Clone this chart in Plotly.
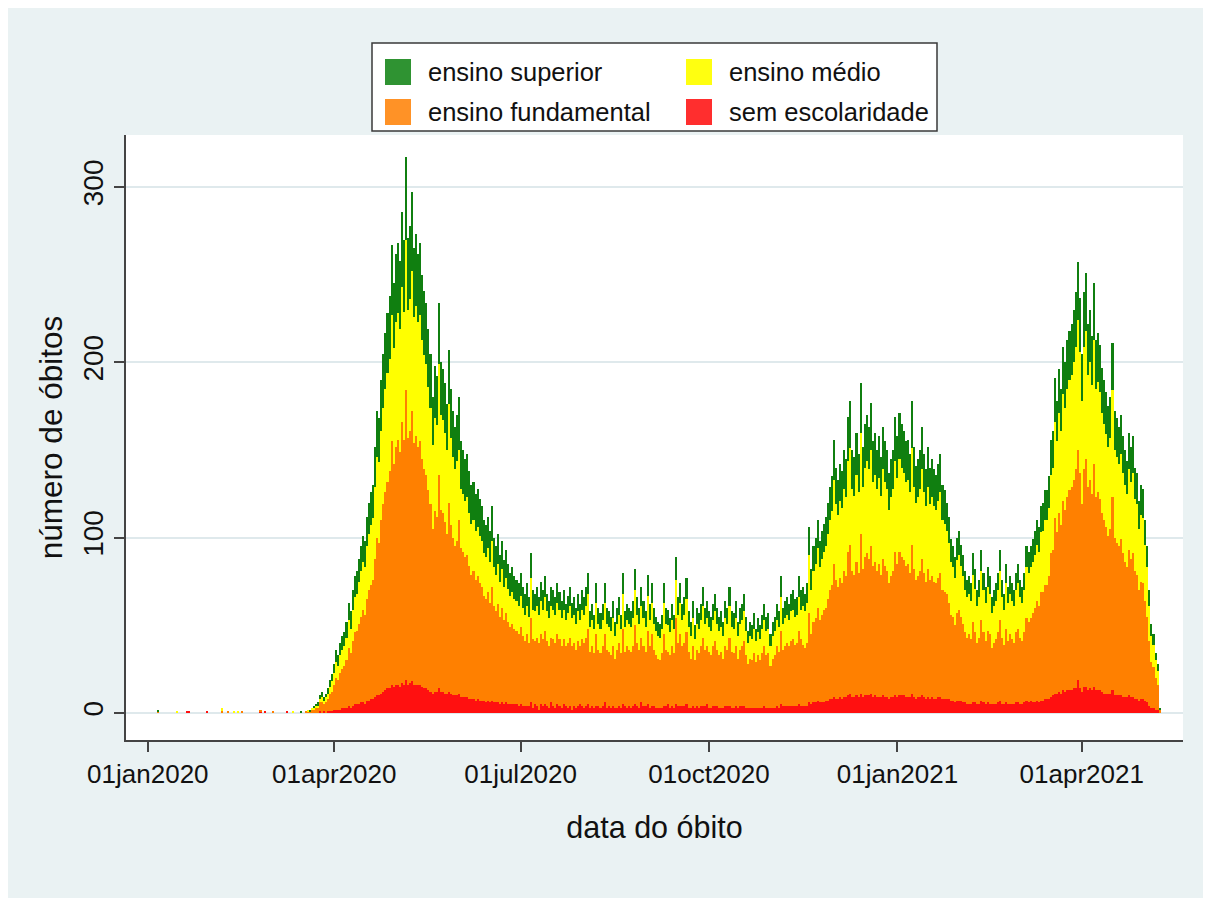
import pandas as pd
import plotly.graph_objects as go

# ---------------- data ----------------
# sparse early deaths (Jan-Mar 2020)
early_dates = ["2020-01-06", "2020-01-15", "2020-01-20", "2020-01-21", "2020-01-30",
               "2020-02-06", "2020-02-09", "2020-02-12", "2020-02-14", "2020-02-16",
               "2020-02-25", "2020-02-27", "2020-03-02", "2020-03-09", "2020-03-12"]
early_sem = [0, 0, 1, 1, 1, 0, 0, 0, 0, 0, 1, 1, 0, 1, 0]
early_fund = [1, 0, 0, 0, 0, 1, 1, 0, 0, 1, 1, 0, 1, 0, 0]
early_med = [0, 1, 0, 0, 0, 2, 0, 1, 1, 0, 0, 0, 0, 0, 1]
early_sup = [1, 0, 0, 0, 0, 0, 0, 0, 0, 0, 0, 0, 0, 0, 0]

# daily series from 16 Mar 2020, one week per line
main_start = "2020-03-16"

sem_escolaridade = [
    0, 0, 0, 0, 0, 0, 0,
    0, 0, 1, 0, 1, 0, 1,
    1, 1, 2, 2, 2, 2, 3,
    3, 3, 4, 3, 4, 5, 5,
    5, 6, 6, 5, 7, 7, 8,
    8, 9, 10, 10, 11, 12, 13,
    14, 14, 16, 15, 16, 16, 15,
    17, 16, 19, 16, 17, 18, 16,
    16, 16, 16, 15, 14, 14, 13,
    12, 11, 12, 12, 14, 12, 12,
    11, 11, 12, 11, 10, 10, 10,
    11, 9, 9, 9, 9, 8, 8,
    8, 7, 8, 7, 7, 7, 6,
    7, 6, 7, 6, 6, 6, 5,
    6, 5, 6, 5, 5, 5, 5,
    5, 4, 5, 4, 4, 4, 4,
    6, 3, 5, 4, 2, 5, 4,
    5, 4, 3, 6, 4, 3, 5,
    4, 3, 5, 4, 3, 4, 2,
    4, 3, 4, 5, 4, 3, 4,
    5, 3, 4, 3, 4, 4, 3,
    4, 6, 3, 4, 3, 4, 3,
    3, 4, 3, 5, 4, 3, 4,
    3, 4, 5, 4, 3, 6, 4,
    4, 5, 3, 4, 4, 3, 3,
    3, 3, 4, 4, 5, 3, 4,
    3, 5, 4, 4, 4, 4, 5,
    3, 3, 4, 3, 4, 3, 4,
    4, 4, 5, 3, 3, 4, 4,
    4, 3, 3, 3, 4, 4, 4,
    3, 3, 4, 3, 4, 4, 4,
    3, 3, 3, 3, 3, 3, 3,
    3, 3, 4, 3, 3, 3, 3,
    3, 4, 3, 5, 4, 4, 4,
    4, 4, 4, 4, 4, 5, 4,
    4, 4, 4, 6, 5, 6, 6,
    7, 6, 6, 6, 7, 7, 8,
    8, 9, 8, 8, 9, 8, 9,
    9, 10, 11, 9, 9, 10, 9,
    11, 9, 10, 10, 10, 11, 9,
    10, 9, 9, 9, 10, 9, 9,
    8, 9, 9, 10, 9, 10, 10,
    10, 9, 9, 9, 11, 9, 8,
    9, 9, 10, 9, 8, 9, 8,
    9, 8, 8, 9, 9, 8, 8,
    8, 8, 7, 7, 6, 7, 7,
    7, 6, 6, 5, 5, 5, 6,
    6, 5, 5, 7, 6, 5, 6,
    5, 5, 5, 5, 6, 7, 5,
    5, 6, 5, 5, 5, 5, 6,
    6, 5, 5, 6, 7, 6, 7,
    6, 6, 7, 6, 7, 7, 8,
    8, 8, 9, 10, 11, 11, 12,
    11, 13, 12, 13, 13, 13, 14,
    14, 19, 14, 12, 15, 15, 13,
    14, 13, 15, 13, 13, 13, 12,
    11, 11, 11, 11, 13, 10, 10,
    10, 10, 9, 9, 9, 10, 9,
    9, 8, 8, 7, 8, 8, 7,
    6, 4, 3, 3, 2, 2, 0,
]

ensino_fundamental = [
    0, 0, 1, 1, 1, 2, 2,
    3, 3, 5, 6, 4, 6, 7,
    10, 11, 14, 18, 17, 21, 22,
    24, 27, 33, 31, 37, 41, 42,
    46, 49, 53, 51, 58, 63, 65,
    68, 79, 90, 87, 99, 107, 113,
    118, 124, 139, 127, 136, 140, 134,
    149, 140, 165, 141, 144, 154, 138,
    142, 136, 139, 130, 125, 122, 114,
    107, 94, 103, 100, 122, 104, 102,
    98, 91, 108, 96, 90, 85, 88,
    99, 85, 83, 80, 81, 76, 71,
    73, 69, 70, 67, 65, 60, 59,
    62, 57, 65, 55, 52, 56, 50,
    54, 48, 51, 47, 44, 46, 43,
    42, 41, 44, 40, 37, 41, 36,
    48, 39, 36, 39, 38, 40, 38,
    42, 37, 35, 37, 38, 37, 40,
    38, 35, 37, 34, 37, 39, 36,
    36, 33, 37, 33, 38, 37, 39,
    43, 32, 34, 31, 41, 32, 31,
    34, 39, 33, 31, 30, 34, 28,
    33, 36, 31, 43, 31, 35, 32,
    32, 34, 45, 36, 33, 37, 34,
    31, 42, 35, 41, 32, 30, 28,
    27, 31, 41, 32, 30, 30, 34,
    31, 49, 36, 41, 34, 36, 41,
    32, 28, 34, 27, 32, 31, 34,
    39, 32, 33, 32, 30, 34, 37,
    32, 30, 32, 28, 34, 32, 39,
    32, 31, 34, 28, 32, 34, 37,
    30, 25, 28, 27, 31, 26, 30,
    27, 31, 34, 30, 31, 24, 28,
    30, 34, 32, 42, 32, 34, 36,
    34, 37, 38, 35, 36, 42, 38,
    35, 33, 36, 51, 40, 46, 48,
    53, 47, 50, 53, 53, 58, 62,
    65, 76, 68, 64, 68, 66, 72,
    69, 82, 85, 72, 70, 76, 71,
    91, 73, 79, 81, 78, 84, 75,
    76, 72, 76, 70, 78, 75, 72,
    66, 69, 72, 82, 76, 82, 79,
    77, 75, 76, 71, 85, 73, 68,
    69, 72, 78, 71, 67, 73, 68,
    69, 67, 66, 68, 71, 62, 61,
    60, 55, 49, 48, 44, 50, 52,
    48, 45, 40, 38, 40, 37, 46,
    40, 35, 38, 46, 40, 36, 41,
    40, 32, 35, 37, 40, 46, 38,
    34, 42, 36, 40, 37, 35, 40,
    42, 38, 36, 40, 47, 46, 47,
    51, 54, 57, 55, 62, 62, 65,
    65, 70, 82, 83, 100, 92, 102,
    96, 108, 104, 110, 114, 116, 119,
    125, 131, 123, 107, 124, 130, 116,
    119, 112, 127, 110, 113, 109, 102,
    99, 95, 90, 94, 110, 90, 87,
    85, 89, 82, 77, 74, 83, 79,
    82, 73, 71, 63, 67, 66, 57,
    49, 37, 26, 23, 18, 14, 2,
]

ensino_medio = [
    0, 0, 0, 1, 0, 1, 1,
    1, 1, 2, 3, 2, 3, 3,
    4, 6, 7, 9, 8, 10, 11,
    11, 13, 16, 14, 18, 20, 21,
    24, 26, 27, 27, 30, 32, 34,
    35, 41, 46, 46, 51, 55, 59,
    62, 64, 72, 66, 71, 72, 70,
    77, 73, 86, 73, 75, 80, 72,
    74, 71, 72, 68, 65, 63, 59,
    55, 48, 53, 52, 63, 54, 53,
    51, 48, 56, 50, 46, 44, 46,
    40, 34, 33, 32, 33, 30, 29,
    29, 28, 28, 27, 26, 24, 24,
    25, 23, 26, 22, 21, 23, 20,
    22, 19, 20, 19, 18, 18, 17,
    17, 16, 18, 16, 15, 16, 15,
    23, 17, 17, 18, 16, 19, 17,
    19, 17, 16, 18, 17, 16, 18,
    17, 16, 17, 15, 17, 18, 16,
    16, 15, 17, 15, 17, 16, 18,
    20, 14, 15, 14, 18, 15, 14,
    15, 18, 15, 14, 14, 16, 13,
    15, 16, 14, 20, 14, 15, 15,
    14, 16, 20, 16, 15, 18, 16,
    14, 20, 15, 18, 15, 14, 13,
    13, 14, 18, 15, 15, 13, 15,
    14, 22, 16, 18, 15, 16, 19,
    14, 13, 16, 12, 15, 14, 15,
    18, 15, 16, 14, 14, 15, 17,
    15, 14, 14, 13, 16, 15, 18,
    14, 14, 16, 13, 15, 15, 17,
    14, 12, 13, 12, 14, 12, 13,
    12, 14, 15, 14, 14, 11, 13,
    14, 15, 14, 19, 15, 16, 16,
    15, 17, 17, 16, 16, 19, 17,
    22, 21, 23, 33, 25, 29, 31,
    34, 30, 32, 33, 35, 37, 40,
    42, 48, 43, 41, 44, 43, 47,
    45, 52, 55, 47, 45, 50, 46,
    58, 47, 51, 53, 51, 55, 48,
    50, 47, 49, 45, 51, 48, 47,
    42, 45, 47, 52, 49, 53, 51,
    50, 48, 48, 46, 55, 47, 44,
    45, 47, 51, 46, 43, 47, 43,
    45, 43, 42, 44, 46, 40, 39,
    36, 34, 30, 28, 27, 30, 31,
    29, 27, 24, 23, 23, 22, 27,
    25, 21, 23, 28, 24, 22, 25,
    23, 20, 21, 22, 24, 28, 23,
    20, 26, 22, 23, 22, 21, 24,
    26, 23, 22, 24, 29, 28, 29,
    29, 30, 32, 31, 34, 35, 37,
    37, 39, 45, 47, 55, 52, 57,
    54, 61, 58, 62, 63, 64, 67,
    70, 74, 69, 59, 70, 73, 64,
    67, 62, 71, 62, 63, 61, 57,
    55, 53, 51, 52, 61, 50, 49,
    47, 49, 46, 44, 42, 46, 44,
    46, 41, 40, 35, 38, 37, 32,
    28, 20, 15, 13, 10, 8, 0,
]

ensino_superior = [
    1, 0, 0, 0, 1, 0, 1,
    1, 2, 2, 3, 2, 2, 3,
    4, 4, 5, 7, 6, 7, 8,
    8, 9, 10, 10, 11, 12, 13,
    13, 14, 15, 15, 17, 18, 19,
    19, 23, 26, 25, 29, 31, 32,
    34, 36, 40, 37, 39, 40, 39,
    43, 41, 47, 41, 42, 45, 39,
    41, 39, 41, 37, 37, 35, 33,
    31, 27, 30, 28, 35, 30, 29,
    28, 26, 31, 28, 26, 24, 26,
    30, 27, 25, 24, 25, 24, 22,
    22, 21, 22, 21, 20, 19, 18,
    18, 18, 20, 17, 16, 17, 15,
    16, 15, 16, 14, 13, 14, 13,
    12, 13, 13, 12, 12, 13, 11,
    14, 11, 10, 11, 10, 11, 11,
    12, 10, 10, 11, 11, 10, 11,
    10, 10, 11, 9, 10, 11, 9,
    10, 9, 10, 9, 11, 10, 11,
    12, 9, 9, 8, 11, 9, 9,
    9, 11, 9, 9, 8, 10, 8,
    9, 10, 8, 12, 9, 9, 9,
    9, 10, 12, 10, 9, 11, 10,
    9, 12, 9, 11, 9, 8, 8,
    8, 8, 11, 9, 9, 8, 9,
    8, 13, 10, 11, 9, 10, 12,
    9, 8, 10, 8, 9, 9, 9,
    11, 9, 10, 9, 8, 9, 10,
    9, 8, 9, 8, 10, 9, 11,
    9, 9, 10, 8, 9, 9, 10,
    8, 7, 8, 8, 9, 7, 8,
    8, 8, 9, 8, 9, 7, 8,
    8, 9, 9, 12, 9, 10, 10,
    9, 10, 11, 10, 10, 12, 11,
    11, 10, 11, 16, 12, 14, 15,
    16, 15, 16, 16, 17, 18, 19,
    20, 23, 21, 20, 21, 21, 22,
    22, 25, 27, 22, 22, 24, 22,
    28, 23, 25, 26, 24, 27, 23,
    24, 22, 24, 22, 24, 23, 22,
    21, 22, 22, 25, 24, 26, 25,
    24, 23, 23, 22, 27, 23, 21,
    22, 22, 24, 22, 21, 23, 21,
    22, 21, 20, 21, 22, 20, 19,
    16, 15, 13, 12, 12, 13, 14,
    12, 12, 11, 10, 10, 10, 12,
    11, 9, 10, 12, 10, 9, 11,
    10, 9, 9, 10, 10, 12, 10,
    9, 11, 9, 10, 10, 9, 10,
    11, 10, 9, 10, 12, 12, 12,
    13, 14, 14, 14, 15, 16, 17,
    17, 18, 20, 21, 25, 23, 25,
    24, 27, 26, 28, 28, 29, 30,
    31, 33, 31, 27, 31, 33, 29,
    30, 28, 32, 28, 28, 27, 26,
    25, 24, 23, 23, 27, 22, 22,
    21, 22, 21, 20, 19, 21, 20,
    21, 18, 18, 16, 17, 17, 14,
    12, 9, 7, 6, 4, 4, 1,
]

x_tick_dates = ["2020-01-01", "2020-04-01", "2020-07-01", "2020-10-01", "2021-01-01", "2021-04-01"]
x_tick_labels = ["01jan2020", "01apr2020", "01jul2020", "01oct2020", "01jan2021", "01apr2021"]
y_tick_vals = [0, 100, 200, 300]

series_names = ["sem escolaridade", "ensino fundamental", "ensino médio", "ensino superior"]
bar_colors = ["#FF1010", "#FF8000", "#FFFF00", "#107F10"]
swatch_colors = ["#FF2E2E", "#FF9226", "#FFFF10", "#2F9332"]

# ---------------- build ----------------
main_dates = [d.strftime("%Y-%m-%d") for d in pd.date_range(main_start, periods=len(sem_escolaridade), freq="D")]
dates = early_dates + main_dates
series = [
    early_sem + sem_escolaridade,
    early_fund + ensino_fundamental,
    early_med + ensino_medio,
    early_sup + ensino_superior,
]

FONT = "Liberation Sans, Arial, sans-serif"
OFF = 8  # page body margin
W, H = 1195, 890
# plot area in page pixels: x 126..1183, y 135..740
ML, MR, MT, MB = 126 - OFF, W - (1183 - OFF), 135 - OFF, H - (740 - OFF)
PW, PH = W - ML - MR, H - MT - MB


def px(x_page):
    return (x_page - OFF - ML) / PW


def py(y_page):
    return (H - MB - (y_page - OFF)) / PH


fig = go.Figure()
for name, vals, col in zip(series_names, series, bar_colors):
    fig.add_trace(go.Bar(x=dates, y=vals, name=name, marker=dict(color=col, line=dict(width=0)),
                         showlegend=False))

shapes = [
    dict(type="rect", xref="paper", yref="paper", x0=px(372), x1=px(937), y0=py(131), y1=py(43),
         fillcolor="white", line=dict(color="#3a3a3a", width=1.5), layer="above"),
]

legend_items = [
    ("ensino superior", swatch_colors[3], 385, 72),
    ("ensino médio", swatch_colors[2], 686, 72),
    ("ensino fundamental", swatch_colors[1], 385, 112),
    ("sem escolaridade", swatch_colors[0], 686, 112),
]
annotations = []
for text, col, sx, cy in legend_items:
    shapes.append(dict(type="rect", xref="paper", yref="paper", x0=px(sx), x1=px(sx + 26),
                       y0=py(cy + 13), y1=py(cy - 13), fillcolor=col, line=dict(width=0), layer="above"))
    annotations.append(dict(xref="paper", yref="paper", x=px(sx + 41), y=py(cy), text=text,
                            showarrow=False, xanchor="left", yanchor="middle",
                            font=dict(family=FONT, size=25.5, color="#111111")))

fig.update_layout(
    width=W, height=H,
    margin=dict(l=ML, r=MR, t=MT, b=MB),
    paper_bgcolor="#EAF2F3", plot_bgcolor="white",
    barmode="stack", bargap=0,
    shapes=shapes, annotations=annotations,
    font=dict(family=FONT, color="#111111"),
    xaxis=dict(
        type="date",
        range=["2019-12-21 08:00", "2021-05-20 10:00"],
        tickvals=x_tick_dates, ticktext=x_tick_labels,
        ticks="outside", ticklen=10, tickwidth=1.5, tickcolor="#444444",
        showline=True, linecolor="#444444", linewidth=1.5,
        showgrid=False, zeroline=False,
        tickfont=dict(family=FONT, size=26, color="#111111"),
        title=dict(text="data do óbito", font=dict(family=FONT, size=30.5, color="#111111"), standoff=29),
    ),
    yaxis=dict(
        range=[-15.4, 329.7],
        tickvals=y_tick_vals, ticktext=[str(v) for v in y_tick_vals],
        tickangle=-90,
        ticks="outside", ticklen=10, tickwidth=1.5, tickcolor="#444444",
        showline=True, linecolor="#444444", linewidth=1.5,
        showgrid=True, gridcolor="#DFE9EC", gridwidth=1.5, zeroline=False,
        tickfont=dict(family=FONT, size=28, color="#111111"),
        title=dict(text="número de óbitos", font=dict(family=FONT, size=31.5, color="#111111"), standoff=6),
    ),
)

fig.write_html("out.html")
